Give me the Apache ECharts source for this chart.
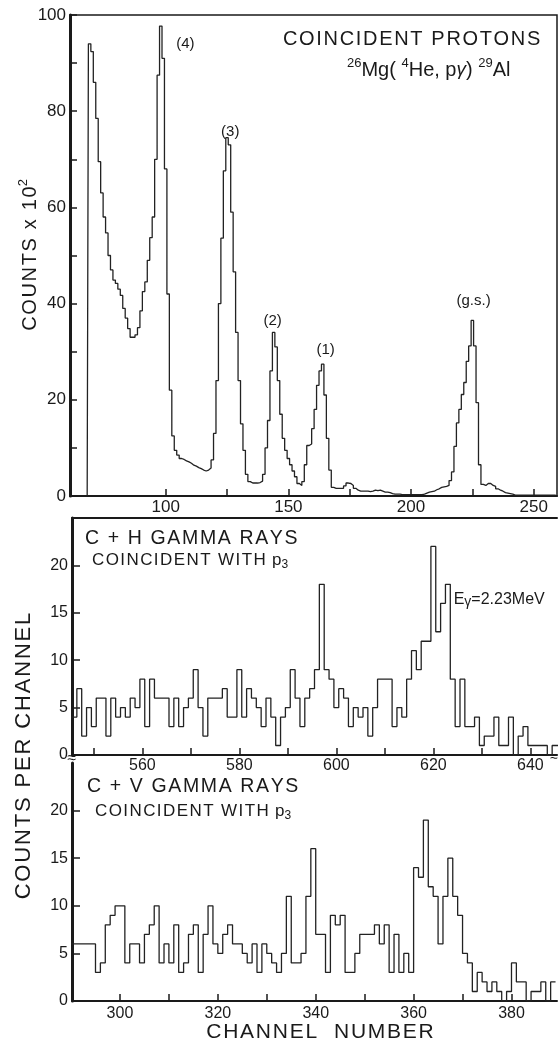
<!DOCTYPE html>
<html>
<head>
<meta charset="utf-8">
<title>Coincident protons 26Mg(4He,p gamma)29Al</title>
<script src="https://cdn.jsdelivr.net/npm/echarts@6.0.0/dist/echarts.min.js"></script>
<style>
html, body { margin: 0; padding: 0; background: #fff; }
#chart { width: 558px; height: 1043px; }
</style>
</head>
<body>
<div id="chart"></div>
<script>
// proton spectrum, counts x 10^2, one value per channel from protonStart
var protonStart = 68;
var protonCounts = [
	0, 94, 92.4, 86, 78.5, 69.5, 63, 58, 54.7, 50,
	47, 44.9, 44.2, 43, 41.7, 39, 37, 34.8, 33, 33,
	33.5, 35, 38.5, 42.5, 44.5, 49, 53.7, 58, 70, 87.5,
	97.7, 91, 68, 42, 22, 12.5, 9.5, 8.5, 7.8, 7.6,
	7.3, 7.1, 6.8, 6.4, 6.2, 5.9, 5.7, 5.4, 5.2, 5.4,
	5.8, 7.5, 13, 24, 40, 53.6, 67.6, 74.5, 73, 59,
	46.6, 34, 24, 15, 9.5, 4.5, 3, 2.7, 2.7, 2.7,
	2.8, 3.1, 4.5, 10, 15.7, 26, 34, 31, 24, 17,
	12, 9.5, 7.8, 6.5, 5.2, 4, 2.6, 2.2, 3, 6.5,
	10.5, 10.8, 14, 18, 23, 26, 27.4, 21, 12, 5.4,
	1.8, 1.6, 1.6, 1.6, 1.6, 2.1, 2.7, 2.6, 2.2, 1.6,
	1.2, 1.0, 1.0, 1.0, 1.0, 0.9, 1.0, 1.2, 1.1, 1.2,
	1.0, 0.8, 0.8, 0.7, 0.5, 0.4, 0.4, 0.4, 0.3, 0.3,
	0.3, 0.3, 0.3, 0.3, 0.3, 0.3, 0.3, 0.4, 0.6, 0.8,
	0.9, 1.0, 1.3, 1.5, 1.8, 1.9, 2.0, 2.2, 3.2, 5,
	10.3, 15.2, 18, 21.1, 23.6, 28, 31.2, 36.5, 31.2, 19.4,
	6.5, 2.4, 2.2, 2.6, 2.6, 2.2, 2.0, 1.5, 1.2, 1.0,
	0.7, 0.6, 0.5, 0.4, 0.2, 0.2, 0.2, 0.2, 0.2, 0.2,
	0.2, 0.2, 0.2, 0.2, 0.2, 0.2, 0.2, 0.2, 0.2, 0.2,
	0.2, 0.2
];
var protonTicks = [100, 125, 150, 175, 200, 225, 250];
var protonLabels = [100, 150, 200, 250];
var peakNames = ['(4)', '(3)', '(2)', '(1)', '(g.s.)'];
var peakChannels = [108, 126.3, 143.6, 165.2, 225.5];
var peakHeights = [94, 75.8, 36.4, 30.4, 40.6];

// C+H gamma rays, counts per channel from chStart
var chStart = 545;
var chCounts = [
	4, 4, 7, 2, 5, 3, 6, 6, 2, 6,
	4, 5, 4, 6, 5, 8, 3, 8, 6, 6,
	6, 3, 6, 3, 5, 6, 9, 5, 2, 6,
	6, 6, 7, 4, 4, 9, 4, 7, 6, 5,
	3, 6, 4, 1, 4, 5, 9, 6, 3, 6,
	7, 9, 18, 9, 8, 5, 7, 6, 3, 5,
	4, 5, 2, 5, 8, 8, 8, 3, 5, 4,
	8, 11, 9, 12, 12, 22, 13, 16, 18, 8,
	3, 8, 3, 3, 4, 1, 2, 2, 4, 1,
	1, 4, 0, 2, 3, 1, 1, 1, 1, 0,
	1, 1
];
var chTicks = [550, 560, 570, 580, 590, 600, 610, 620, 630, 640];
var chLabels = [560, 580, 600, 620, 640];

// C+V gamma rays, counts per channel from cvStart
var cvStart = 290;
var cvCounts = [
	6, 6, 6, 6, 6, 3, 4, 8, 9, 10,
	10, 4, 6, 6, 4, 7, 8, 10, 4, 6,
	4, 8, 3, 4, 7, 8, 3, 7, 10, 6,
	5, 7, 8, 6, 6, 5, 4, 6, 3, 6,
	5, 4, 3, 5, 11, 4, 4, 5, 11, 16,
	7, 7, 3, 9, 8, 9, 3, 3, 5, 7,
	7, 7, 8, 6, 8, 3, 7, 3, 5, 3,
	14, 13, 19, 12, 11, 6, 11, 15, 11, 9,
	5, 4, 1, 3, 2, 1, 2, 1, 0, 1,
	4, 2, 2, 0, 1, 1, 2, 0, 2, 2
];
var cvTicks = [300, 310, 320, 330, 340, 350, 360, 370, 380];
var cvLabels = [300, 320, 340, 360, 380];

var gammaTicks = [0, 5, 10, 15, 20];

var font = '"Liberation Sans", Arial, sans-serif';
var ink = '#1a1a1a';

function pairs(start, list) {
	var out = [];
	for (var i = 0; i < list.length; i++) {
		out.push([start + i, list[i]]);
	}
	return out;
}

// wide lettering like the original stencil text
function spaced(s) {
	return s.split('').join('\u200A');
}

function bottomAxis(grid, min, max, ticks, labels, size, margin) {
	return {
		type: 'value', gridIndex: grid, min: min, max: max,
		axisLine: { show: true, onZero: false, lineStyle: { color: ink, width: 2 } },
		axisTick: { show: true, inside: true, length: 7, customValues: ticks, lineStyle: { color: ink, width: 1.5 } },
		axisLabel: { show: true, customValues: labels, margin: margin, color: ink, fontFamily: font, fontSize: size },
		splitLine: { show: false }
	};
}

function gammaAxis(grid) {
	return {
		type: 'value', gridIndex: grid, min: 0, max: 25,
		axisLine: { show: true, onZero: false, lineStyle: { color: ink, width: 3 } },
		axisTick: { show: true, inside: true, length: 8, customValues: gammaTicks, lineStyle: { color: ink, width: 1.5 } },
		axisLabel: { show: true, customValues: gammaTicks, margin: 4, color: ink, fontFamily: font, fontSize: 16 },
		splitLine: { show: false }
	};
}

function histo(xi, yi, data, step) {
	return {
		type: 'line', xAxisIndex: xi, yAxisIndex: yi,
		data: data, step: step, symbol: 'none', silent: true,
		lineStyle: { color: '#222', width: 1.3 }
	};
}

function textEl(x, y, text, size, align) {
	return {
		type: 'text', x: x, y: y, silent: true,
		style: { text: text, fontFamily: font, fontSize: size, fill: ink, align: align || 'left', verticalAlign: 'middle' }
	};
}

function coincident(x, y) {
	return {
		type: 'text', x: x, y: y, silent: true,
		style: {
			text: '{m|' + spaced('COINCIDENT WITH ') + 'p}{s|3}',
			fontFamily: font, fill: ink, align: 'left', verticalAlign: 'middle',
			rich: {
				m: { fontFamily: font, fontSize: 17, lineHeight: 22, fill: ink },
				s: { fontFamily: font, fontSize: 12, lineHeight: 12, verticalAlign: 'bottom', fill: ink }
			}
		}
	};
}

var chart = echarts.init(document.getElementById('chart'));

var protonSeries = histo(0, 0, pairs(protonStart, protonCounts), 'middle');
protonSeries.markPoint = {
	symbol: 'circle', symbolSize: 0, silent: true,
	label: { show: true, position: 'inside', formatter: '{b}', color: ink, fontFamily: font, fontSize: 15 },
	data: peakNames.map(function (n, i) {
		return { name: n, coord: [peakChannels[i], peakHeights[i]] };
	})
};

var chSeries = histo(1, 1, pairs(chStart, chCounts), 'middle');
chSeries.markPoint = {
	symbol: 'circle', symbolSize: 0, silent: true,
	label: {
		show: true, position: 'inside', align: 'left', formatter: '{e|E}{g|γ}{e|=2.23MeV}',
		rich: {
			e: { fontFamily: font, fontSize: 16, lineHeight: 20, color: ink },
			g: { fontFamily: font, fontSize: 14, lineHeight: 14, verticalAlign: 'bottom', color: ink }
		}
	},
	data: [{ name: 'Egamma', coord: [624.2, 16.4] }]
};

var option = {
	backgroundColor: '#fff',
	animation: false,
	grid: [
		{ left: 70, top: 15, width: 487, height: 481, show: true, borderColor: ink, borderWidth: 1.5, backgroundColor: 'transparent' },
		{ left: 72, top: 518, width: 485, height: 237 },
		{ left: 72, top: 763, width: 485, height: 238 }
	],
	xAxis: [
		bottomAxis(0, 61, 259.5, protonTicks, protonLabels, 17, 3),
		bottomAxis(1, 545.5, 645.5, chTicks, chLabels, 16, 3),
		bottomAxis(2, 290.2, 389.3, cvTicks, cvLabels, 16, 5),
		{
			type: 'value', gridIndex: 1, position: 'top', min: 545.5, max: 645.5,
			axisLine: { show: true, onZero: false, lineStyle: { color: ink, width: 2 } },
			axisTick: { show: false }, axisLabel: { show: false }, splitLine: { show: false }
		}
	],
	yAxis: [
		{
			type: 'value', gridIndex: 0, min: 0, max: 100, interval: 10,
			axisLine: { show: true, onZero: false, lineStyle: { color: ink, width: 3 } },
			axisTick: { show: true, inside: true, length: 7, lineStyle: { color: ink, width: 1.5 } },
			axisLabel: {
				show: true, margin: 4, color: ink, fontFamily: font, fontSize: 17,
				formatter: function (v) { return v % 20 === 0 ? v : ''; }
			},
			splitLine: { show: false }
		},
		gammaAxis(1),
		gammaAxis(2)
	],
	series: [
		protonSeries,
		chSeries,
		histo(2, 2, pairs(cvStart, cvCounts), 'end')
	],
	graphic: [
		textEl(283, 39, spaced('COINCIDENT PROTONS'), 20),
		{
			type: 'text', x: 347, y: 70, silent: true,
			style: {
				text: '{s|26}{m|Mg( }{s|4}{m|He, p}{g|γ}{m|) }{s|29}{m|Al}',
				fontFamily: font, fill: ink, align: 'left', verticalAlign: 'middle',
				rich: {
					m: { fontFamily: font, fontSize: 20, lineHeight: 26, fill: ink },
					g: { fontFamily: font, fontSize: 19, lineHeight: 26, fontStyle: 'italic', fill: ink },
					s: { fontFamily: font, fontSize: 13, lineHeight: 14, verticalAlign: 'top', fill: ink }
				}
			}
		},
		textEl(85, 539, spaced('C + H GAMMA RAYS'), 19.5),
		coincident(92, 560),
		textEl(87, 787, spaced('C + V GAMMA RAYS'), 19.5),
		coincident(95, 811),
		textEl(320, 1032, spaced('CHANNEL  NUMBER'), 21, 'center'),
		{
			type: 'text', x: 24, y: 756, rotation: Math.PI / 2, silent: true,
			style: { text: spaced('COUNTS PER CHANNEL'), fontFamily: font, fontSize: 22, fill: ink, align: 'center', verticalAlign: 'middle' }
		},
		{
			type: 'text', x: 30, y: 255, rotation: Math.PI / 2, silent: true,
			style: {
				text: '{m|' + spaced('COUNTS x 10') + '}{s|2}',
				fontFamily: font, fill: ink, align: 'center', verticalAlign: 'middle',
				rich: {
					m: { fontFamily: font, fontSize: 20, lineHeight: 26, fill: ink },
					s: { fontFamily: font, fontSize: 13, lineHeight: 14, verticalAlign: 'top', fill: ink }
				}
			}
		},
		// axis break marks
		textEl(72, 759, '≈', 16, 'center'),
		textEl(554, 757, '≈', 14, 'center')
	]
};

chart.setOption(option);
window.addEventListener("resize", function () {
	chart.resize();
});
</script>
</body>
</html>
